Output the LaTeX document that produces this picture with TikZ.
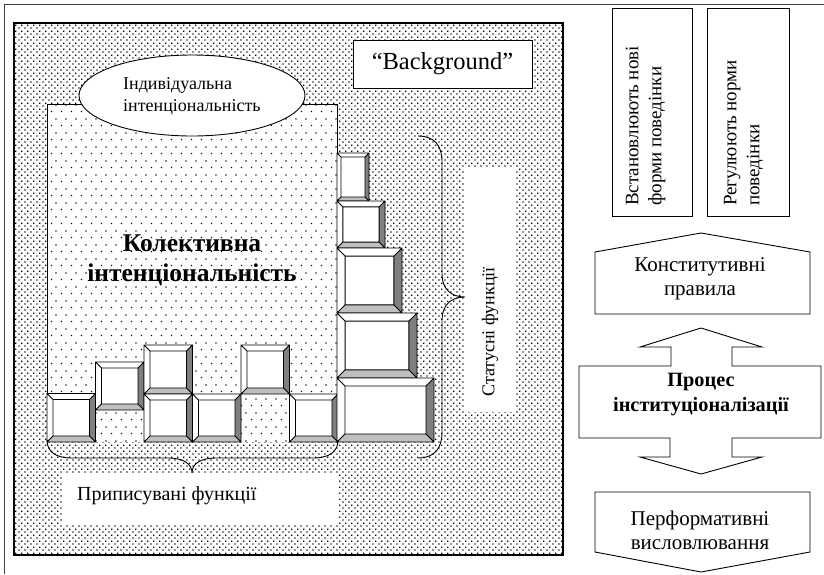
\documentclass[tikz,border=0pt]{standalone}
\usepackage{fontspec}
\setmainfont{Liberation Serif}
\usetikzlibrary{patterns}

% dot fills: a dense one for the background, a sparse one for the collective area
\pgfdeclarepatternformonly{densedots}{\pgfqpoint{0pt}{0pt}}{\pgfqpoint{6pt}{6pt}}{\pgfqpoint{6pt}{6pt}}{%
  \pgfpathrectangle{\pgfqpoint{0.5pt}{0.5pt}}{\pgfqpoint{1.5pt}{1.5pt}}%
  \pgfpathrectangle{\pgfqpoint{3.5pt}{3.5pt}}{\pgfqpoint{1.5pt}{1.5pt}}%
  \pgfusepath{fill}}
\pgfdeclarepatternformonly{sparsedots}{\pgfqpoint{0pt}{0pt}}{\pgfqpoint{10pt}{14pt}}{\pgfqpoint{10pt}{14pt}}{%
  \pgfpathrectangle{\pgfqpoint{1pt}{1pt}}{\pgfqpoint{1.2pt}{1.2pt}}%
  \pgfpathrectangle{\pgfqpoint{6pt}{8pt}}{\pgfqpoint{1.2pt}{1.2pt}}%
  \pgfusepath{fill}}

\definecolor{bevdark}{HTML}{7F7F7F}
\definecolor{bevmid}{HTML}{BFBFBF}

\tikzset{
  outline/.style={draw=black, line width=0.9pt},
  txt/.style={font=\fontsize{18}{22}\selectfont, inner sep=0pt},
  sidetxt/.style={font=\fontsize{19}{23}\selectfont, inner sep=0pt},
  ruletxt/.style={font=\fontsize{21}{24}\selectfont, inner sep=0pt, align=center},
  boldtxt/.style={font=\bfseries\fontsize{20.3}{25}\selectfont, inner sep=0pt, align=center},
  whitepanel/.style={fill=white, draw=none},
}

% bevelled block: left x, top y, width, height (y grows downward)
\newcommand{\bevbox}[4]{%
  \pgfmathsetmacro\bvL{#1}\pgfmathsetmacro\bvT{#2}%
  \pgfmathsetmacro\bvR{#1+#3}\pgfmathsetmacro\bvB{#2+#4}%
  \pgfmathsetmacro\bvD{0.125*min(#3,#4)}%
  \pgfmathsetmacro\bvIL{\bvL+\bvD}\pgfmathsetmacro\bvIT{\bvT+\bvD}%
  \pgfmathsetmacro\bvIR{\bvR-\bvD}\pgfmathsetmacro\bvIB{\bvB-\bvD}%
  \fill[white] (\bvL,\bvT) rectangle (\bvR,\bvB);
  \fill[bevdark] (\bvR,\bvT) -- (\bvR,\bvB) -- (\bvIR,\bvIB) -- (\bvIR,\bvIT) -- cycle;
  \fill[bevmid] (\bvL,\bvB) -- (\bvR,\bvB) -- (\bvIR,\bvIB) -- (\bvIL,\bvIB) -- cycle;
  \draw[line width=0.8pt] (\bvL,\bvT) rectangle (\bvR,\bvB)
    (\bvIL,\bvIT) rectangle (\bvIR,\bvIB)
    (\bvL,\bvT) -- (\bvIL,\bvIT) (\bvR,\bvT) -- (\bvIR,\bvIT)
    (\bvR,\bvB) -- (\bvIR,\bvIB) (\bvL,\bvB) -- (\bvIL,\bvIB);
}

\begin{document}
\begin{tikzpicture}[x=1pt, y=-1pt]
\useasboundingbox (0,0) rectangle (824,574);
\fill[white] (0,0) rectangle (824,574);

% outer frame
\draw[black!75, line width=1pt] (4,574) -- (4,4) -- (824,4);

% background field
\fill[white] (14,23) rectangle (563,555);
\fill[pattern=densedots] (14,23) rectangle (563,555);
\draw[line width=1.2pt] (14,23) rectangle (563,555);

\node[whitepanel, outline, minimum width=179pt, minimum height=48pt, inner sep=0pt]
  (bgbox) at (442.5,64) {};
\node[font=\fontsize{24.5}{28}\selectfont, inner sep=0pt] (t-bg) at (bgbox.center) {“Background”};

% collective intentionality area
\fill[white] (47,104) rectangle (337,442);
\fill[pattern=sparsedots] (47,104) rectangle (337,442);
\draw[outline] (47,442) -- (47,104) -- (337,104) -- (337,442);

\draw[outline, fill=white] (192,95.5) ellipse [x radius=113, y radius=40.5];
\node[txt, align=left, anchor=west] (t-indiv) at (123,96)
  {Індивідуальна\\інтенціональність};

\node[font=\bfseries\fontsize{25.5}{30}\selectfont, inner sep=0pt, align=center]
  (t-collect) at (192,260) {Колективна\\інтенціональність};

% ascribed-function blocks
\bevbox{47}{393.5}{48.5}{48.5}
\bevbox{95.5}{362}{48.5}{48}
\bevbox{144}{345}{48.5}{49}
\bevbox{144}{394}{48.5}{48}
\bevbox{192.5}{394}{48.5}{48}
\bevbox{241}{345}{48.5}{49}
\bevbox{289.5}{394}{48.5}{48}

% status-function stack
\bevbox{337}{153}{32}{48}
\bevbox{337}{201}{48}{47}
\bevbox{337}{248}{65}{65}
\bevbox{337}{313}{80}{65}
\bevbox{337}{378}{97}{64}

% braces
\draw[line width=0.9pt] (47,440) .. controls (47,452) and (56,458) .. (72,458)
  -- (168,458) .. controls (184,458) and (192,464) .. (192,473)
  .. controls (192,464) and (200,458) .. (216,458)
  -- (313,458) .. controls (329,458) and (338,452) .. (338,440);
\draw[line width=0.9pt] (418,136) .. controls (434,136) and (442,145) .. (442,162)
  -- (442,274) .. controls (442,289) and (451,297) .. (465,297)
  .. controls (451,297) and (442,305) .. (442,320)
  -- (442,432) .. controls (442,449) and (434,458) .. (418,458);

% brace labels
\fill[whitepanel] (465,167) rectangle (515,412);
\node[txt, rotate=90] (t-status) at (490,332) {Статусні функції};
\fill[whitepanel] (63,473) rectangle (338,524);
\node[font=\fontsize{20}{24}\selectfont, inner sep=0pt, anchor=west] (t-ascribed) at (77,496) {Приписувані функції};

% right column: rule effects
\draw[outline] (612,8) rectangle (692,216);
\node[sidetxt, rotate=90, align=left, anchor=west] (t-establish) at (645.5,206)
  {Встановлюють нові\\форми поведінки};
\draw[outline] (707,8) rectangle (789,216);
\node[sidetxt, rotate=90, align=left, anchor=west] (t-regulate) at (743.5,206)
  {Регулюють норми\\поведінки};

% constitutive rules (arrow pointing up)
\draw[outline, fill=white] (595,314) -- (595,252) -- (701,233) -- (810,252) -- (810,314) -- cycle;
\node[ruletxt] (t-const) at (700,279) {Конститутивні\\правила};

% institutionalisation process (double arrow)
\draw[outline, fill=white] (579,366) -- (671,366) -- (671,347) -- (640,347) -- (701,328)
  -- (762,347) -- (732,347) -- (732,366) -- (821,366) -- (821,438) -- (732,438)
  -- (732,457) -- (762,457) -- (701,474) -- (640,457) -- (670,457) -- (670,438)
  -- (579,438) -- cycle;
\node[boldtxt] (t-process) at (701,395) {Процес\\інституціоналізації};

% performative utterances (arrow pointing down)
\draw[outline, fill=white] (595,492) -- (810,492) -- (810,552) -- (701,572) -- (595,552) -- cycle;
\node[ruletxt] (t-perform) at (700,530) {Перформативні\\висловлювання};
\end{tikzpicture}
\end{document}
